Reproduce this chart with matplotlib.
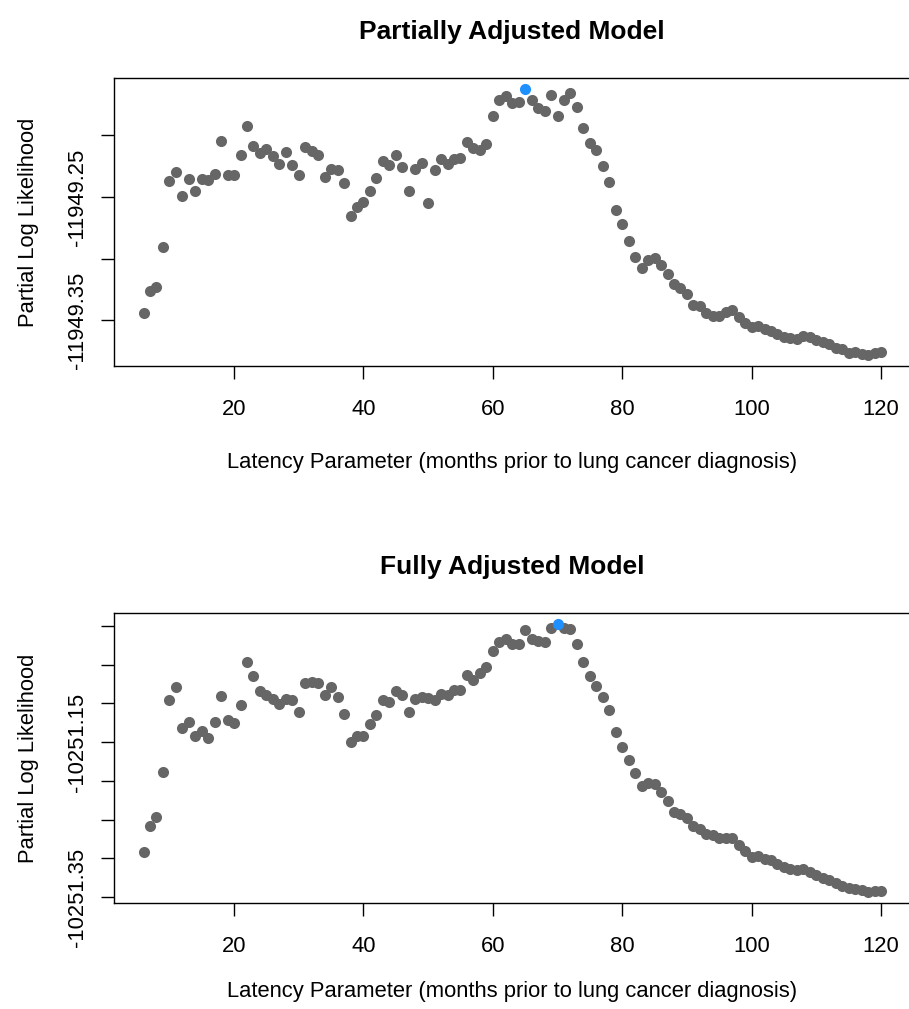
import matplotlib
matplotlib.use("Agg")
import matplotlib.pyplot as plt
from matplotlib.ticker import FixedLocator, FixedFormatter

plt.rcParams['font.family'] = ['Liberation Sans', 'DejaVu Sans']

# ---------------- data ----------------
latency = list(range(6, 121))

partial_ll = [
    -11949.3444, -11949.3266, -11949.3233, -11949.2909, -11949.2370,
    -11949.2294, -11949.2488, -11949.2353, -11949.2451, -11949.2353,
    -11949.2364, -11949.2310, -11949.2046, -11949.2324, -11949.2324,
    -11949.2162, -11949.1927, -11949.2086, -11949.2140, -11949.2113,
    -11949.2167, -11949.2229, -11949.2132, -11949.2240, -11949.2324,
    -11949.2092, -11949.2127, -11949.2159, -11949.2335, -11949.2270,
    -11949.2281, -11949.2389, -11949.2653, -11949.2580, -11949.2540,
    -11949.2451, -11949.2348, -11949.2208, -11949.2243, -11949.2159,
    -11949.2259, -11949.2453, -11949.2270, -11949.2227, -11949.2545,
    -11949.2281, -11949.2194, -11949.2229, -11949.2189, -11949.2186,
    -11949.2051, -11949.2100, -11949.2121, -11949.2073, -11949.1838,
    -11949.1714, -11949.1682, -11949.1736, -11949.1725, -11949.1620,
    -11949.1714, -11949.1781, -11949.1800, -11949.1671, -11949.1838,
    -11949.1709, -11949.1655, -11949.1768, -11949.1941, -11949.2065,
    -11949.2119, -11949.2248, -11949.2375, -11949.2604, -11949.2720,
    -11949.2855, -11949.2985, -11949.3079, -11949.3015, -11949.2998,
    -11949.3052, -11949.3125, -11949.3206, -11949.3241, -11949.3287,
    -11949.3376, -11949.3387, -11949.3441, -11949.3463, -11949.3468,
    -11949.3430, -11949.3414, -11949.3476, -11949.3522, -11949.3557,
    -11949.3549, -11949.3570, -11949.3589, -11949.3611, -11949.3638,
    -11949.3646, -11949.3657, -11949.3632, -11949.3638, -11949.3665,
    -11949.3678, -11949.3692, -11949.3727, -11949.3738, -11949.3765,
    -11949.3759, -11949.3773, -11949.3786, -11949.3767, -11949.3759,
]

full_ll = [
    -10251.2920, -10251.2587, -10251.2461, -10251.1886, -10251.0952,
    -10251.0792, -10251.1319, -10251.1233, -10251.1419, -10251.1362,
    -10251.1449, -10251.1241, -10251.0900, -10251.1220, -10251.1246,
    -10251.1021, -10251.0458, -10251.0649, -10251.0835, -10251.0895,
    -10251.0939, -10251.1003, -10251.0943, -10251.0952, -10251.1116,
    -10251.0735, -10251.0722, -10251.0735, -10251.0887, -10251.0787,
    -10251.0921, -10251.1138, -10251.1501, -10251.1419, -10251.1419,
    -10251.1267, -10251.1155, -10251.0952, -10251.0986, -10251.0843,
    -10251.0887, -10251.1112, -10251.0943, -10251.0917, -10251.0930,
    -10251.0960, -10251.0874, -10251.0887, -10251.0830, -10251.0822,
    -10251.0636, -10251.0692, -10251.0606, -10251.0532, -10251.0316,
    -10251.0203, -10251.0164, -10251.0229, -10251.0238, -10251.0056,
    -10251.0164, -10251.0195, -10251.0203, -10251.0030, -10250.9970,
    -10251.0022, -10251.0043, -10251.0234, -10251.0458, -10251.0644,
    -10251.0770, -10251.0913, -10251.1090, -10251.1375, -10251.1561,
    -10251.1734, -10251.1894, -10251.2067, -10251.2024, -10251.2046,
    -10251.2141, -10251.2258, -10251.2405, -10251.2431, -10251.2474,
    -10251.2587, -10251.2617, -10251.2682, -10251.2703, -10251.2734,
    -10251.2734, -10251.2734, -10251.2824, -10251.2907, -10251.2984,
    -10251.2971, -10251.3006, -10251.3019, -10251.3071, -10251.3114,
    -10251.3136, -10251.3149, -10251.3136, -10251.3179, -10251.3222,
    -10251.3253, -10251.3279, -10251.3322, -10251.3352, -10251.3382,
    -10251.3391, -10251.3408, -10251.3439, -10251.3417, -10251.3417,
]

titles = ["Partially Adjusted Model", "Fully Adjusted Model"]
x_label = "Latency Parameter (months prior to lung cancer diagnosis)"
y_label = "Partial Log Likelihood"
x_ticks = [20, 40, 60, 80, 100, 120]
partial_yticks = [-11949.20, -11949.25, -11949.30, -11949.35]
partial_ylabels = ["", "-11949.25", "", "-11949.35"]
full_yticks = [-10251.00, -10251.05, -10251.10, -10251.15,
               -10251.20, -10251.25, -10251.30, -10251.35]
full_ylabels = ["", "", "", "-10251.15", "", "", "", "-10251.35"]

# ---------------- figure ----------------
W, H = 909, 1009
fig = plt.figure(figsize=(W / 100, H / 100), dpi=100)

GRAY = "#666666"
BLUE = "#1E90FF"
FS = 15.8
TFS = 19.0


def make_panel(top_px, bottom_px, xlabel_px, yvals, yticks, ylabels, title):
    left_px, right_px = 114, 910.5
    ax = fig.add_axes([left_px / W, 1 - bottom_px / H,
                       (right_px - left_px) / W, (bottom_px - top_px) / H])
    best = max(range(len(yvals)), key=lambda i: yvals[i])
    others_x = [latency[i] for i in range(len(yvals)) if i != best]
    others_y = [yvals[i] for i in range(len(yvals)) if i != best]
    ax.plot(others_x, others_y, 'o', color=GRAY, markersize=8.0,
            markeredgewidth=0, clip_on=False)
    ax.plot([latency[best]], [yvals[best]], 'o', color=BLUE, markersize=8.0,
            markeredgewidth=0, clip_on=False, zorder=3)
    ax.margins(x=0.04, y=0.04)
    ax.xaxis.set_major_locator(FixedLocator(x_ticks))
    ax.yaxis.set_major_locator(FixedLocator(yticks))
    ax.yaxis.set_major_formatter(FixedFormatter(ylabels))
    ax.tick_params(axis='both', direction='out', length=9.4, width=1.0,
                   labelsize=FS, color='black')
    ax.tick_params(axis='x', pad=14)
    ax.tick_params(axis='y', pad=9.5)
    for lab in ax.get_yticklabels():
        lab.set_rotation(90)
        lab.set_va('center')
    for sp in ax.spines.values():
        sp.set_linewidth(1.0)
        sp.set_color('black')
    ax.set_title(title, fontsize=TFS, fontweight='bold', pad=28)
    ax.set_xlabel(x_label, fontsize=FS)
    ax.xaxis.set_label_coords(512 / W, 1 - xlabel_px / H,
                              transform=fig.transFigure)
    ax.xaxis.label.set_va('center')
    ax.set_ylabel(y_label, fontsize=FS, labelpad=20)
    return ax


make_panel(78, 366, 462, partial_ll, partial_yticks, partial_ylabels, titles[0])
make_panel(613, 903, 991, full_ll, full_yticks, full_ylabels, titles[1])

fig.savefig("out.png", dpi=100, facecolor='white')
